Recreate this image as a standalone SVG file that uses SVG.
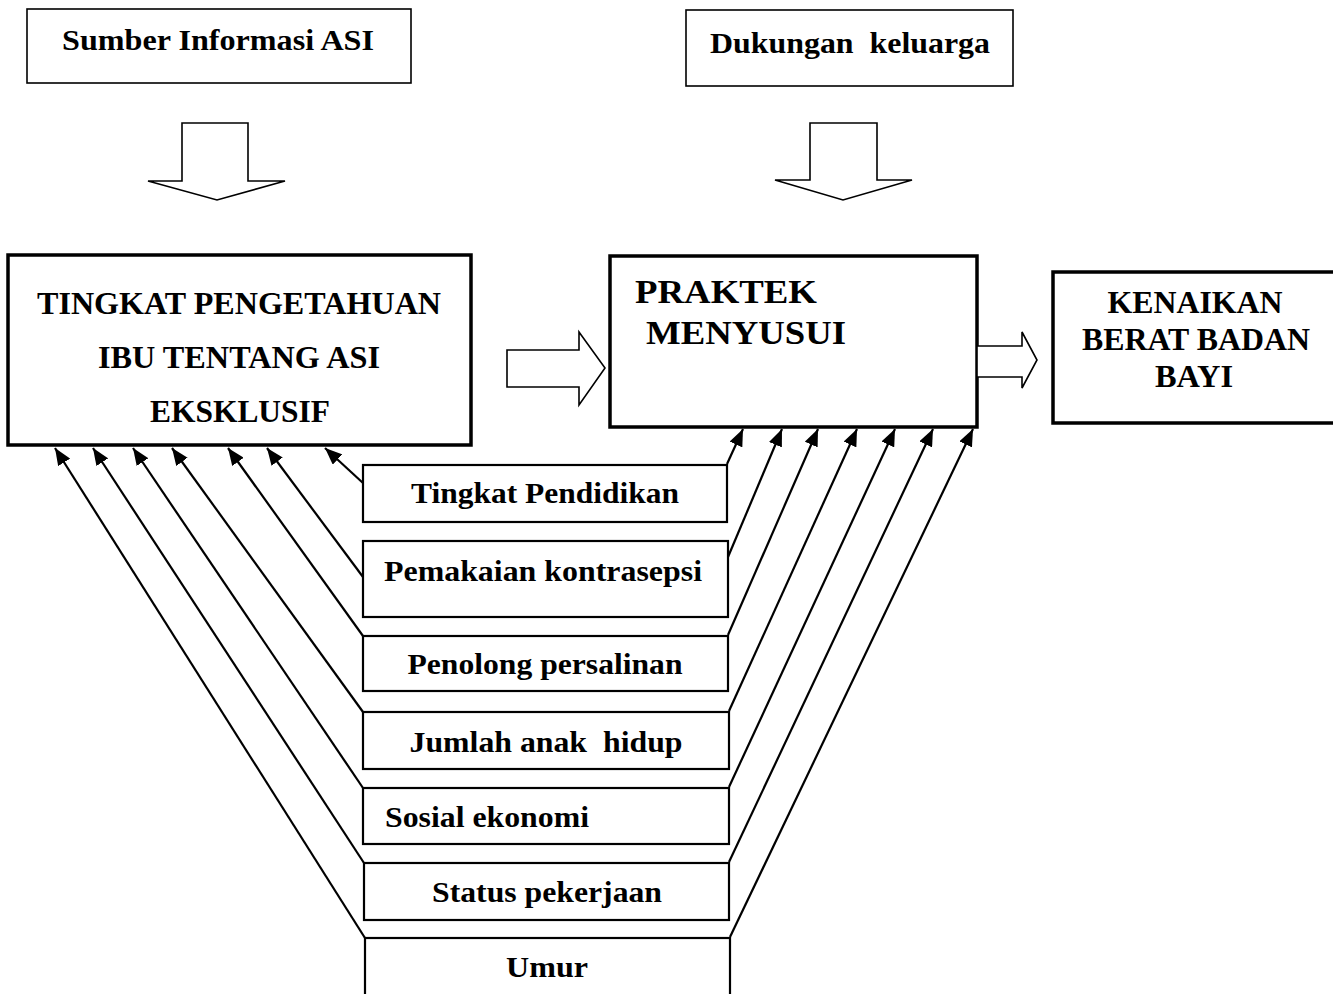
<svg xmlns="http://www.w3.org/2000/svg" width="1333" height="994" viewBox="0 0 1333 994">
<style>
text{font-family:"Liberation Serif","Times New Roman",serif;font-weight:bold;fill:#000}
.thin{fill:#fff;stroke:#000;stroke-width:1.6}
.mid{fill:#fff;stroke:#000;stroke-width:2.2}
.thick{fill:#fff;stroke:#000;stroke-width:3.5}
.blk{fill:#fff;stroke:#000;stroke-width:1.6;stroke-linejoin:miter}
.con{stroke:#000;stroke-width:2.2;fill:none;marker-end:url(#ah)}
.t26{font-size:30px}
.t30{font-size:31px}
.tp{font-size:33px}
.tf{font-size:30px}
</style>
<defs>
<marker id="ah" markerUnits="userSpaceOnUse" markerWidth="18" markerHeight="14" refX="17" refY="7" orient="auto">
<path d="M0,0 L17,7 L0,14 z" fill="#000"/>
</marker>
</defs>
<rect width="1333" height="994" fill="#fff"/>

<g id="sumber">
<rect class="thin" x="27" y="9" width="384" height="74"/>
<text class="t26" x="218" y="50" text-anchor="middle" textLength="312" lengthAdjust="spacingAndGlyphs">Sumber Informasi ASI</text>
</g>
<g id="dukungan">
<rect class="thin" x="686" y="10" width="327" height="76"/>
<text class="t26" x="850" y="53" text-anchor="middle" textLength="280" lengthAdjust="spacingAndGlyphs" xml:space="preserve">Dukungan  keluarga</text>
</g>
<g id="pengetahuan">
<rect class="thick" x="8" y="255" width="463" height="190"/>
<text class="t30" x="239" y="314" text-anchor="middle" textLength="404" lengthAdjust="spacingAndGlyphs">TINGKAT PENGETAHUAN</text>
<text class="t30" x="239" y="368" text-anchor="middle" textLength="282" lengthAdjust="spacingAndGlyphs">IBU TENTANG ASI</text>
<text class="t30" x="240" y="422" text-anchor="middle" textLength="180" lengthAdjust="spacingAndGlyphs">EKSKLUSIF</text>
</g>
<g id="praktek">
<rect class="thick" x="610" y="256" width="367" height="171"/>
<text class="tp" x="635" y="303" textLength="182" lengthAdjust="spacingAndGlyphs">PRAKTEK</text>
<text class="tp" x="646" y="344" textLength="200" lengthAdjust="spacingAndGlyphs">MENYUSUI</text>
</g>
<g id="kenaikan">
<rect class="thick" x="1053" y="272" width="300" height="151"/>
<text class="t30" x="1195" y="313" text-anchor="middle" textLength="175" lengthAdjust="spacingAndGlyphs">KENAIKAN</text>
<text class="t30" x="1196" y="350" text-anchor="middle" textLength="228" lengthAdjust="spacingAndGlyphs">BERAT BADAN</text>
<text class="t30" x="1194" y="387" text-anchor="middle" textLength="78" lengthAdjust="spacingAndGlyphs">BAYI</text>
</g>

<g id="f-pendidikan">
<rect class="mid" x="363" y="465" width="364" height="57"/>
<text class="tf" x="545" y="503" text-anchor="middle" textLength="268" lengthAdjust="spacingAndGlyphs">Tingkat Pendidikan</text>
</g>
<g id="f-kontrasepsi">
<rect class="mid" x="363" y="541" width="365" height="76"/>
<text class="tf" x="543" y="581" text-anchor="middle" textLength="318" lengthAdjust="spacingAndGlyphs">Pemakaian kontrasepsi</text>
</g>
<g id="f-penolong">
<rect class="mid" x="363" y="636" width="365" height="55"/>
<text class="tf" x="545" y="674" text-anchor="middle" textLength="275" lengthAdjust="spacingAndGlyphs">Penolong persalinan</text>
</g>
<g id="f-jumlah">
<rect class="mid" x="363" y="712" width="366" height="57"/>
<text class="tf" x="546" y="752" text-anchor="middle" textLength="273" lengthAdjust="spacingAndGlyphs" xml:space="preserve">Jumlah anak  hidup</text>
</g>
<g id="f-sosial">
<rect class="mid" x="363" y="788" width="366" height="56"/>
<text class="tf" x="385" y="827" textLength="204" lengthAdjust="spacingAndGlyphs">Sosial ekonomi</text>
</g>
<g id="f-status">
<rect class="mid" x="364" y="863" width="365" height="57"/>
<text class="tf" x="547" y="902" text-anchor="middle" textLength="230" lengthAdjust="spacingAndGlyphs">Status pekerjaan</text>
</g>
<g id="f-umur">
<rect class="mid" x="365" y="938" width="365" height="60"/>
<text class="tf" x="547" y="977" text-anchor="middle" textLength="82" lengthAdjust="spacingAndGlyphs">Umur</text>
</g>

<g id="connectors">
<polygon class="blk" points="182,123 248,123 248,181 285,181 217,200 148,181 182,181"/>
<polygon class="blk" points="810,123 877,123 877,180 912,180 843,200 775,180 810,180"/>
<polygon class="blk" points="507,350 579,350 579,332 605,368 579,405 579,387 507,387"/>
<polygon class="blk" points="977,346 1022,346 1022,332 1037,360 1022,388 1022,377 977,377"/>

<line class="con" x1="365" y1="938" x2="55" y2="448"/>
<line class="con" x1="364" y1="863" x2="93" y2="448"/>
<line class="con" x1="363" y1="788" x2="133" y2="448"/>
<line class="con" x1="363" y1="712" x2="172" y2="448"/>
<line class="con" x1="363" y1="636" x2="228" y2="448"/>
<line class="con" x1="363" y1="577" x2="267" y2="448"/>
<line class="con" x1="363" y1="483" x2="325" y2="448"/>

<line class="con" x1="727" y1="464" x2="743" y2="429"/>
<line class="con" x1="728" y1="557" x2="782" y2="429"/>
<line class="con" x1="728" y1="635" x2="818" y2="429"/>
<line class="con" x1="729" y1="711" x2="857" y2="429"/>
<line class="con" x1="729" y1="787" x2="895" y2="429"/>
<line class="con" x1="729" y1="862" x2="933" y2="429"/>
<line class="con" x1="730" y1="937" x2="973" y2="429"/>
</g>
</svg>
